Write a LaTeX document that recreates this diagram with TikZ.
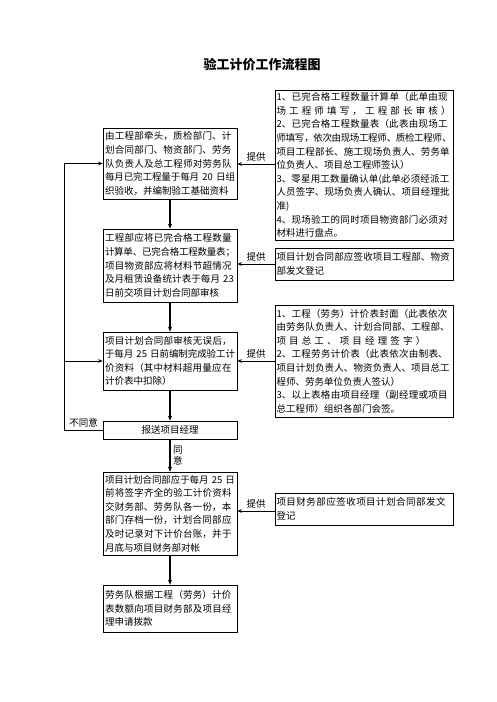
\documentclass[tikz,border=0pt]{standalone}
\usepackage{fontspec}
\usepackage{tikz}
\usetikzlibrary{positioning, arrows.meta, shadows}
\newfontfamily\cjk{Noto Sans CJK SC}
\XeTeXlinebreaklocale "zh"
\XeTeXlinebreakskip=0pt plus 1.5pt minus 0.8pt
\tolerance=9999
\newcommand{\spreadline}[1]{\makebox[\linewidth][s]{#1}}
\tikzset{
  stepbox/.style={
    rectangle, draw=black, line width=0.7pt,
    fill=white,
    inner xsep=2pt, inner ysep=2pt,
    text width=130pt, minimum height=#1,
    font=\cjk\fontsize{9.5}{13.6}\selectfont
  },
  stepbox/.default=20pt,
  gatebox/.style={
    rectangle, draw=black, line width=0.7pt,
    fill=white, inner sep=2pt,
    minimum width=134pt, minimum height=18pt,
    font=\cjk\fontsize{9.5}{13.6}\selectfont
  },
  notebox/.style={
    rectangle, draw=black, line width=0.7pt,
    fill=white,
    drop shadow={shadow xshift=1.3pt, shadow yshift=-1.3pt, fill=black, opacity=1},
    inner xsep=1.5pt, inner ysep=2pt,
    text width=175pt, minimum height=#1,
    font=\cjk\fontsize{9.5}{13.6}\selectfont
  },
  notebox/.default=20pt,
  flow/.style={
    -{Stealth[length=5pt, width=4pt]},
    black, line width=1.4pt
  },
  feed/.style={
    -{Stealth[length=4.5pt, width=3.6pt]},
    black, line width=0.6pt
  },
  tag/.style={font=\cjk\fontsize{9.5}{11}\selectfont, inner sep=1.5pt}
}
\begin{document}
\begin{tikzpicture}[x=1pt, y=-1pt]
  \useasboundingbox (0,0) rectangle (496,702);
  \node[font=\cjk\bfseries\fontsize{13}{15}\selectfont] (title) at (262,65) {验工计价工作流程图};
  % main column
  \node[stepbox=71pt] (b1) at (170,163.5) {由工程部牵头，质检部门、计\linebreak
    划合同部门、物资部门、劳务\linebreak
    队负责人及总工程师对劳务队\linebreak
    每月已完工程量于每月 20 日组\linebreak
    织验收，并编制验工基础资料};
  \node[stepbox=73pt] (b2) at (170,265.5) {工程部应将已完合格工程数量\linebreak
    计算单、已完合格工程数量表；\linebreak
    项目物资部应将材料节超情况\linebreak
    及月租赁设备统计表于每月 23\linebreak
    日前交项目计划合同部审核};
  \node[stepbox=58pt] (b3) at (170,361) {项目计划合同部审核无误后，\linebreak
    于每月 25 日前编制完成验工计\linebreak
    价资料（其中材料超用量应在\linebreak
    计价表中扣除）};
  \node[gatebox] (b4) at (170,430) {报送项目经理};
  \node[stepbox=83pt] (b5) at (170,513.5) {项目计划合同部应于每月 25 日\linebreak
    前将签字齐全的验工计价资料\linebreak
    交财务部、劳务队各一份，本\linebreak
    部门存档一份，计划合同部应\linebreak
    及时记录对下计价台账，并于\linebreak
    月底与项目财务部对帐};
  \node[stepbox=47pt] (b6) at (170,608.5) {劳务队根据工程（劳务）计价\linebreak
    表数额向项目财务部及项目经\linebreak
    理申请拨款};
  % side notes
  \node[notebox=150pt] (r1) at (364,165) {1、已完合格工程数量计算单（此单由现\linebreak
    \spreadline{场 工 程 师 填 写 ， 工 程 部 长 审 核 ）}\\
    2、已完合格工程数量表（此表由现场工\linebreak
    师填写，依次由现场工程师、质检工程师、\linebreak
    项目工程部长、施工现场负责人、劳务单\linebreak
    位负责人、项目总工程师签认）\\
    3、零星用工数量确认单(此单必须经派工\linebreak
    人员签字、现场负责人确认、项目经理批\linebreak
    准)\\
    4、现场验工的同时项目物资部门必须对\linebreak
    材料进行盘点。};
  \node[notebox=32pt] (r2) at (364,264) {项目计划合同部应签收项目工程部、物资\linebreak
    部发文登记};
  \node[notebox=112pt] (r3) at (364,361) {1、工程（劳务）计价表封面（此表依次\linebreak
    由劳务队负责人、计划合同部、工程部、\linebreak
    \spreadline{项 目 总 工 、 项 目 经 理 签 字 ）}\\
    2、工程劳务计价表（此表依次由制表、\linebreak
    项目计划负责人、物资负责人、项目总工\linebreak
    程师、劳务单位负责人签认）\\
    3、以上表格由项目经理（副经理或项目\linebreak
    总工程师）组织各部门会签。};
  \node[notebox=32pt] (r4) at (364,509) {项目财务部应签收项目计划合同部发文\linebreak
    登记};
  % connectors
  \foreach \a/\b in {b1/b2, b2/b3, b3/b4, b5/b6} {
    \draw[flow] (\a) -- (\b);
  }
  \draw[flow] (b4) -- node[tag, right=1pt, align=center] {同\\意} (b5);
  \foreach \r/\b/\y in {r1/b1/164, r2/b2/264, r3/b3/361, r4/b5/511} {
    \draw[feed] (\r.west |- 0,\y) -- node[tag, above=1pt] {提供} (\b.east |- 0,\y);
  }
  \draw[feed] (b4.west) -- node[tag, above=1pt] {不同意} ++(-38,0) coordinate (bend) |- (b1.west);
  \draw[feed] (bend |- b3.west) -- (b3.west);
\end{tikzpicture}
\end{document}
